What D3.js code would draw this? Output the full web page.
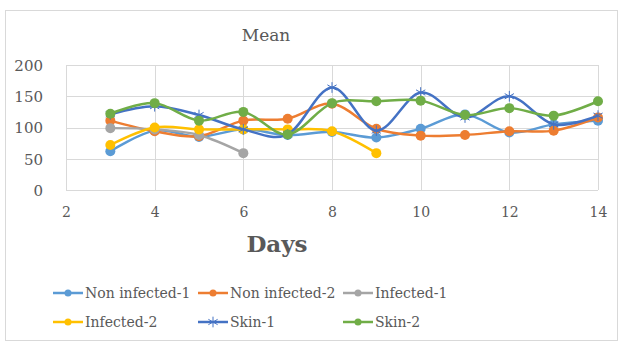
<!DOCTYPE html>
<html>
<head>
<meta charset="utf-8">
<script src="https://cdn.jsdelivr.net/npm/d3@7"></script>
<style>
  body { margin: 0; background: #fff; }
  text { font-family: "DejaVu Serif", serif; fill: #595959; }
</style>
</head>
<body>
<svg id="chart" width="622" height="343"></svg>
<script>
// chart data
var days = [3, 4, 5, 6, 7, 8, 9, 10, 11, 12, 13, 14];
var nonInfected1 = [62, 95, 85, 97, 88, 93, 84, 98, 121, 92, 105, 111];
var nonInfected2 = [111, 94, 86, 111, 114, 138, 98, 87, 88, 94, 95, 116];
var infected1 = [99, 97, 88, 59];
var infected2 = [72, 100, 97, 97, 97, 94, 59];
var skin1 = [121, 134, 120, 97, 89, 164, 95, 156, 116, 150, 105, 119];
var skin2 = [122, 139, 111, 125, 89, 139, 142, 143, 120, 131, 119, 142];
var xTicks = [2, 4, 6, 8, 10, 12, 14];
var yTicks = [0, 50, 100, 150, 200];

var series = [
  {name: "Non infected-1", values: nonInfected1, color: "#5b9bd5", marker: "circle"},
  {name: "Non infected-2", values: nonInfected2, color: "#ed7d31", marker: "circle"},
  {name: "Infected-1", values: infected1, color: "#a5a5a5", marker: "circle"},
  {name: "Infected-2", values: infected2, color: "#ffc000", marker: "circle"},
  {name: "Skin-1", values: skin1, color: "#4472c4", marker: "star"},
  {name: "Skin-2", values: skin2, color: "#70ad47", marker: "circle"}
];

var svg = d3.select("#chart");

// outer border
svg.append("rect")
  .attr("x", 5.5).attr("y", 10.5)
  .attr("width", 612).attr("height", 330)
  .attr("fill", "none")
  .attr("stroke", "#d9d9d9");

var x = d3.scaleLinear().domain([2, 14]).range([66, 598]);
var y = d3.scaleLinear().domain([0, 200]).range([190, 65]);

// grid
svg.selectAll(".hgrid")
  .data(yTicks)
  .enter()
  .append("line")
    .attr("x1", x(2)).attr("x2", x(14))
    .attr("y1", function(d) {return Math.round(y(d)) + 0.5;})
    .attr("y2", function(d) {return Math.round(y(d)) + 0.5;})
    .attr("stroke", "#d9d9d9");

svg.selectAll(".vgrid")
  .data(xTicks)
  .enter()
  .append("line")
    .attr("x1", function(d) {return Math.round(x(d)) + 0.5;})
    .attr("x2", function(d) {return Math.round(x(d)) + 0.5;})
    .attr("y1", y(200)).attr("y2", y(0))
    .attr("stroke", "#d9d9d9");

// axes
var yAxis = svg.append("g")
  .attr("transform", "translate(" + (x(2) - 20) + ",0)")
  .call(d3.axisLeft(y).tickValues(yTicks).tickSize(0));
yAxis.select(".domain").remove();
yAxis.selectAll("text")
  .style("font-family", "DejaVu Serif")
  .style("font-size", "15px")
  .attr("fill", "#595959")
  .attr("dy", "0.35em");

var xAxis = svg.append("g")
  .attr("transform", "translate(0," + (y(0) + 14) + ")")
  .call(d3.axisBottom(x).tickValues(xTicks).tickSize(0));
xAxis.select(".domain").remove();
xAxis.selectAll("text")
  .style("font-family", "DejaVu Serif")
  .style("font-size", "14px")
  .attr("fill", "#595959");

// titles
svg.append("text")
  .attr("x", 266).attr("y", 41)
  .attr("text-anchor", "middle")
  .style("font-size", "17px")
  .text("Mean");

svg.append("text")
  .attr("x", 277).attr("y", 252)
  .attr("text-anchor", "middle")
  .style("font-size", "23px")
  .style("font-weight", "bold")
  .text("Days");

// lines
var line = d3.line()
  .x(function(d) {return x(d.day);})
  .y(function(d) {return y(d.value);})
  .curve(d3.curveCatmullRom.alpha(0));

function drawMarker(g, marker, color, r) {
  if (marker == "star") {
    g.append("path")
      .attr("d", d3.symbol().type(d3.symbolAsterisk).size(80)())
      .attr("stroke", color)
      .attr("stroke-width", 1)
      .attr("fill", "none");
  } else {
    g.append("circle")
      .attr("r", r)
      .attr("fill", color);
  }
}

series.forEach(function(s) {
  var pts = s.values.map(function(v, i) {return {day: days[i], value: v};});
  svg.append("path")
    .datum(pts)
    .attr("d", line)
    .attr("fill", "none")
    .attr("stroke", s.color)
    .attr("stroke-width", 2.5);

  pts.forEach(function(p) {
    var g = svg.append("g")
      .attr("transform", "translate(" + x(p.day) + "," + y(p.value) + ")");
    drawMarker(g, s.marker, s.color, 5);
  });
});

// legend
var legendCols = [53, 198, 343];
var legendRows = [293, 322];
series.forEach(function(s, i) {
  var lx = legendCols[i % 3], ly = legendRows[Math.floor(i / 3)];
  var g = svg.append("g").attr("transform", "translate(" + lx + "," + ly + ")");
  g.append("line")
    .attr("x1", 0).attr("x2", 30)
    .attr("y1", 0).attr("y2", 0)
    .attr("stroke", s.color)
    .attr("stroke-width", 2.5);
  var m = g.append("g").attr("transform", "translate(15,0)");
  drawMarker(m, s.marker, s.color, 3.5);
  g.append("text")
    .attr("x", 32).attr("y", 0)
    .attr("dy", "0.35em")
    .style("font-size", "14px")
    .text(s.name);
});
</script>
</body>
</html>
